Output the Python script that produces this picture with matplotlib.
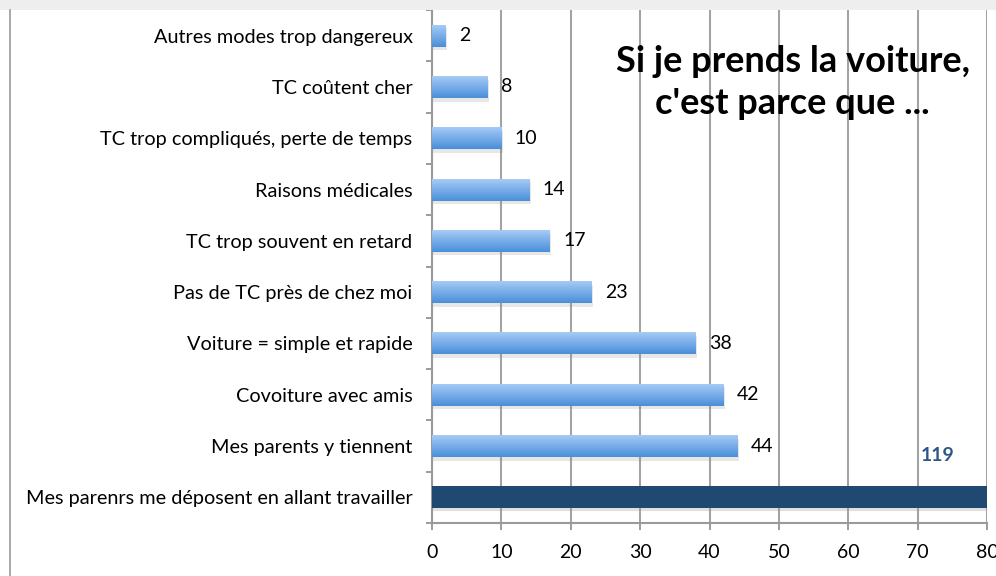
import matplotlib
matplotlib.use("Agg")
import matplotlib.pyplot as plt
import numpy as np
from matplotlib.colors import LinearSegmentedColormap
from matplotlib.patches import Rectangle

categories = [
    "Autres modes trop dangereux",
    "TC coûtent cher",
    "TC trop compliqués, perte de temps",
    "Raisons médicales",
    "TC trop souvent en retard",
    "Pas de TC près de chez moi",
    "Voiture = simple et rapide",
    "Covoiture avec amis",
    "Mes parents y tiennent",
    "Mes parenrs me déposent en allant travailler",
]
values = [2, 8, 10, 14, 17, 23, 38, 42, 44, 119]
highlight = [False] * 9 + [True]
xticks = [0, 10, 20, 30, 40, 50, 60, 70, 80]
title = "Si je prends la voiture,\nc'est parce que ..."

FONT = ["Lato", "DejaVu Sans"]
plt.rcParams["font.family"] = FONT

fig = plt.figure(figsize=(9.96, 5.76), dpi=100)
fig.patch.set_facecolor("white")

# top grey band and left frame line
fig.patches.append(Rectangle((0, 1 - 10 / 576), 1, 10 / 576, transform=fig.transFigure,
                             facecolor="#eeeeee", edgecolor="none", zorder=0))
fig.lines.append(plt.Line2D([10 / 996, 10 / 996], [0, 1 - 10 / 576], transform=fig.transFigure,
                            color="#9a9a9a", lw=1.2))

ax = fig.add_axes([432 / 996, 53 / 576, (987 - 432) / 996, (566 - 53) / 576])
ax.set_xlim(0, 80)
ax.set_ylim(len(categories) - 0.5, -0.5)

grad = np.linspace(0, 1, 64).reshape(-1, 1)
cmap = LinearSegmentedColormap.from_list("b", ["#a9cdf7", "#4a8fda"])

h = 0.43
y = np.arange(len(categories))
for i, (v, hi) in enumerate(zip(values, highlight)):
    if hi:
        ax.barh(i + 0.05, v, height=h, color="#9a9a9a", alpha=0.3, zorder=2)
        ax.barh(i, v, height=h, color="#1f4970", zorder=3)
        ax.text(72.9, i - 0.82, str(v), color="#2b568a", fontsize=14, fontweight="bold",
                va="center", ha="center")
    else:
        ax.barh(i + 0.07, v + 0.2, height=h, color="#888888", alpha=0.2, zorder=2)
        bars = ax.barh(i, v, height=h, color="none", zorder=3)
        im = ax.imshow(grad, extent=[0, v, i + h / 2, i - h / 2], aspect="auto", cmap=cmap,
                       zorder=3, interpolation="bilinear")
        im.set_clip_path(bars[0])
        ax.text(v + 1.9, i, str(v), color="black", fontsize=14, va="center", ha="left")

ax.set_xlim(0, 80)
ax.set_ylim(len(categories) - 0.5, -0.5)

ax.set_xticks(xticks)
ax.set_xticklabels([str(t) for t in xticks], fontsize=14)
ax.set_yticks(y)
ax.set_yticklabels(categories, fontsize=14.3)
ax.set_yticks(np.arange(-0.5, len(categories), 1), minor=True)
ax.tick_params(axis="y", which="major", length=0, pad=14)
ax.tick_params(axis="y", which="minor", length=4, color="#8a8a8a", width=1.2)
ax.tick_params(axis="x", length=5, color="#8a8a8a", width=1.2, pad=10)

ax.grid(axis="x", color="#a3a3a3", lw=1.5, zorder=1)
ax.set_axisbelow(True)
for s in ["top", "right"]:
    ax.spines[s].set_visible(False)
for s in ["left", "bottom"]:
    ax.spines[s].set_color("#9a9a9a")
    ax.spines[s].set_linewidth(1.5)

ax.text(0.650, 0.859, title, transform=ax.transAxes, fontsize=26, fontweight="bold",
        ha="center", va="center", linespacing=1.32, zorder=5)

fig.savefig("out.png", dpi=100)
